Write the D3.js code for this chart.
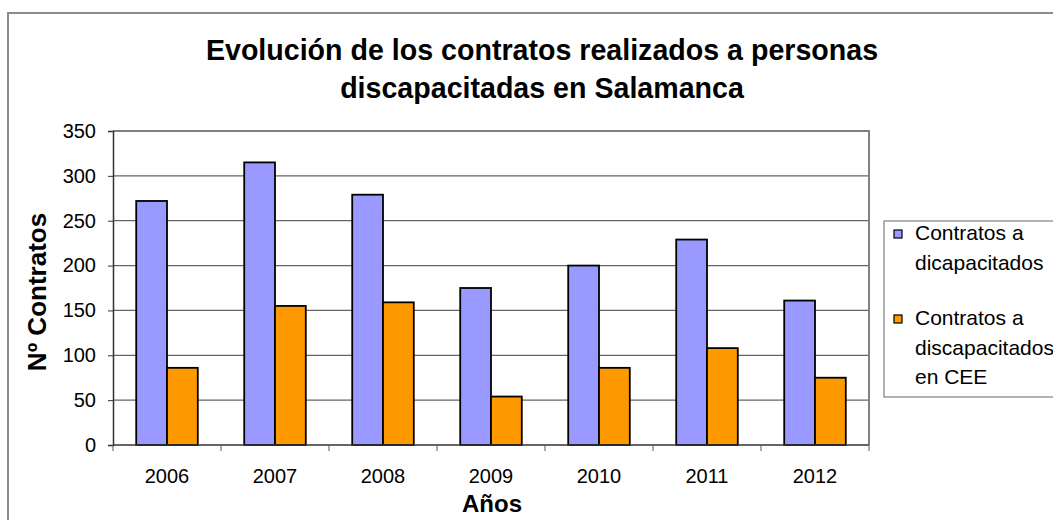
<!DOCTYPE html>
<html>
<head>
<meta charset="utf-8">
<script src="https://cdn.jsdelivr.net/npm/d3@7"></script>
<style>
  body { margin: 0; background: #fff; }
  text { font-family: "Liberation Sans", Arial, sans-serif; }
</style>
</head>
<body>
<script>
var width = 1053,
    height = 520;

// data
var years = ["2006", "2007", "2008", "2009", "2010", "2011", "2012"];
var contratos = [272, 315, 279, 175, 200, 229, 161];
var contratosCEE = [86, 155, 159, 54, 86, 108, 75];
var yTicks = [0, 50, 100, 150, 200, 250, 300, 350];
var seriesNames = [["Contratos a", "dicapacitados"], ["Contratos a", "discapacitados", "en CEE"]];
var colors = ["#9999ff", "#ff9900"];

var plot = {left: 113, right: 869, top: 131, bottom: 445};

var svg = d3.select("body").append("svg")
    .attr("width", width)
    .attr("height", height);

// outer chart border
svg.append("rect")
    .attr("x", 8).attr("y", 13)
    .attr("width", 1100).attr("height", 600)
    .attr("fill", "#fff")
    .attr("stroke", "#8c8c8c")
    .attr("stroke-width", 2);

var x = d3.scaleBand()
    .domain(years)
    .range([plot.left, plot.right])
    .paddingInner(0.43)
    .paddingOuter(0.215);

var y = d3.scaleLinear()
    .domain([0, 350])
    .range([plot.bottom, plot.top]);

// gridlines
svg.append("g")
    .selectAll("line").data(yTicks.slice(1))
  .enter().append("line")
    .attr("x1", plot.left).attr("x2", plot.right)
    .attr("y1", d => y(d)).attr("y2", d => y(d))
    .attr("stroke", "#666")
    .attr("stroke-width", 1.2);

// plot area border top/right
svg.append("path")
    .attr("d", "M" + plot.left + "," + plot.top + "H" + plot.right + "V" + plot.bottom)
    .attr("fill", "none")
    .attr("stroke", "#808080")
    .attr("stroke-width", 2);

var xs = d3.scaleBand().domain([0, 1]).range([0, x.bandwidth()]);

var rows = years.map((yr, i) => ({year: yr, vals: [contratos[i], contratosCEE[i]]}));

svg.append("g").selectAll("g").data(rows)
  .enter().append("g")
    .attr("transform", d => "translate(" + x(d.year) + ",0)")
  .selectAll("rect").data(d => d.vals)
  .enter().append("rect")
    .attr("x", (d, i) => xs(i))
    .attr("width", xs.bandwidth())
    .attr("y", d => y(d))
    .attr("height", d => y(0) - y(d))
    .attr("fill", (d, i) => colors[i])
    .attr("stroke", "#000")
    .attr("stroke-width", 1.8);

// y axis
var yAxis = d3.axisLeft(y).tickValues(yTicks).tickSize(5).tickPadding(12);
var gy = svg.append("g")
    .attr("transform", "translate(" + plot.left + ",0)")
    .call(yAxis);
gy.select(".domain").attr("stroke", "#333").attr("stroke-width", 1.5);
gy.selectAll(".tick line").attr("stroke", "#333");
gy.selectAll("text").attr("font-size", 20).attr("fill", "#000")
    .style("font-family", "Liberation Sans, Arial, sans-serif");

// x axis: ticks on category borders
var gx = svg.append("g")
    .attr("transform", "translate(0," + plot.bottom + ")");
gx.append("line")
    .attr("x1", plot.left).attr("x2", plot.right)
    .attr("stroke", "#333").attr("stroke-width", 1.5);
var step = x.step();
gx.selectAll(".tk").data(d3.range(years.length + 1))
  .enter().append("line")
    .attr("class", "tk")
    .attr("x1", i => plot.left + i * step).attr("x2", i => plot.left + i * step)
    .attr("y1", 0).attr("y2", 6)
    .attr("stroke", "#555");
gx.selectAll("text").data(years)
  .enter().append("text")
    .attr("x", d => x(d) + x.bandwidth() / 2)
    .attr("y", 38)
    .attr("text-anchor", "middle")
    .attr("font-size", 20)
    .text(d => d);

// titles
svg.append("text")
    .attr("x", 542).attr("y", 60)
    .attr("text-anchor", "middle")
    .attr("font-size", 28.6).attr("font-weight", "bold")
    .text("Evolución de los contratos realizados a personas");
svg.append("text")
    .attr("x", 542).attr("y", 98)
    .attr("text-anchor", "middle")
    .attr("font-size", 28.6).attr("font-weight", "bold")
    .text("discapacitadas en Salamanca");

svg.append("text")
    .attr("x", 492).attr("y", 512)
    .attr("text-anchor", "middle")
    .attr("font-size", 24).attr("font-weight", "bold")
    .text("Años");

svg.append("text")
    .attr("transform", "translate(46,292) rotate(-90)")
    .attr("text-anchor", "middle")
    .attr("font-size", 26).attr("font-weight", "bold")
    .text("Nº Contratos");

// legend
var lg = svg.append("g").attr("transform", "translate(884,221)");
lg.append("rect")
    .attr("width", 300).attr("height", 176)
    .attr("fill", "#fff")
    .attr("stroke", "#808080")
    .attr("stroke-width", 1.2);

var entryY = [0, 85];
seriesNames.forEach(function(lines, k) {
  var g = lg.append("g").attr("transform", "translate(0," + entryY[k] + ")");
  g.append("rect")
    .attr("x", 10).attr("y", 9)
    .attr("width", 8).attr("height", 8)
    .attr("fill", colors[k])
    .attr("stroke", "#000")
    .attr("stroke-width", 1.2);
  g.selectAll("text").data(lines)
    .enter().append("text")
    .attr("x", 31)
    .attr("y", (d, i) => 19 + i * 29.5)
    .attr("font-size", 21)
    .text(d => d);
});
</script>
</body>
</html>
